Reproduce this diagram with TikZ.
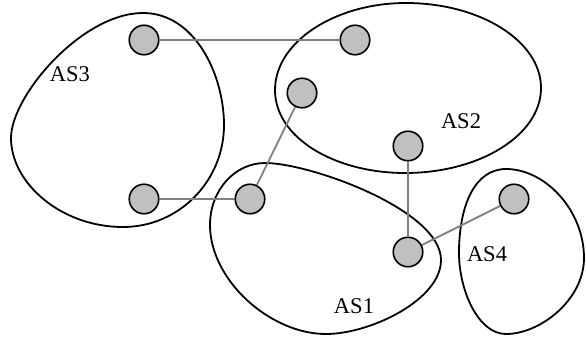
\documentclass[tikz,border=0pt]{standalone}
\usepackage{fontspec}
\setmainfont{Liberation Serif}
\usetikzlibrary{backgrounds}
\begin{document}
\begin{tikzpicture}[x=1pt,y=-1pt,
  router/.style={circle,draw=black,line width=1.6pt,fill={rgb,255:red,192;green,192;blue,192},minimum size=29.5pt,inner sep=0pt},
  link/.style={draw={rgb,255:red,128;green,128;blue,128},line width=1.8pt},
  asblob/.style={draw=black,line width=1.8pt},
  aslabel/.style={font=\fontsize{22.5}{26}\selectfont,inner sep=0pt}]
\useasboundingbox (0,0) rectangle (586,339);
% routers
\node[router] (a3a) at (144,40) {};
\node[router] (a3b) at (144,199) {};
\node[router] (a2a) at (355,40) {};
\node[router] (a2b) at (302,93) {};
\node[router] (a2c) at (408,146) {};
\node[router] (a1a) at (250,199) {};
\node[router] (a1b) at (408,252) {};
\node[router] (a4) at (514,199) {};
% labels
\node[aslabel] (l3) at (70,74) {AS3};
\node[aslabel] (l2) at (461,121) {AS2};
\node[aslabel] (l1) at (354,306) {AS1};
\node[aslabel] (l4) at (487,254) {AS4};
\begin{scope}[on background layer]
% AS3
\draw[asblob] (143,13) .. controls (195,13) and (224,75) .. (224,125)
  .. controls (224,181) and (179,227) .. (123,227)
  .. controls (61,227) and (11,183) .. (11,138)
  .. controls (11,96) and (82,13) .. (143,13) -- cycle;
% AS2
\draw[asblob] (406,3) .. controls (480,3) and (541,41) .. (541,88)
  .. controls (541,135) and (480,173) .. (405,173)
  .. controls (335,173) and (275,138) .. (275,90)
  .. controls (275,42) and (335,3) .. (406,3) -- cycle;
% AS1
\draw[asblob] (265,163) .. controls (310,163) and (441,210) .. (441,260)
  .. controls (441,300) and (370,334) .. (326,334)
  .. controls (270,334) and (210,280) .. (210,225)
  .. controls (210,190) and (235,163) .. (265,163) -- cycle;
% AS4
\draw[asblob] (506,169) .. controls (545,169) and (584,210) .. (584,258)
  .. controls (584,300) and (540,334) .. (506,334)
  .. controls (478,334) and (459,290) .. (459,253)
  .. controls (459,205) and (475,169) .. (506,169) -- cycle;
% links
\draw[link] (a3a) -- (a2a);
\draw[link] (a2b) -- (a1a);
\draw[link] (a3b) -- (a1a);
\draw[link] (a2c) -- (a1b);
\draw[link] (a1b) -- (a4);
\end{scope}
\end{tikzpicture}
\end{document}
